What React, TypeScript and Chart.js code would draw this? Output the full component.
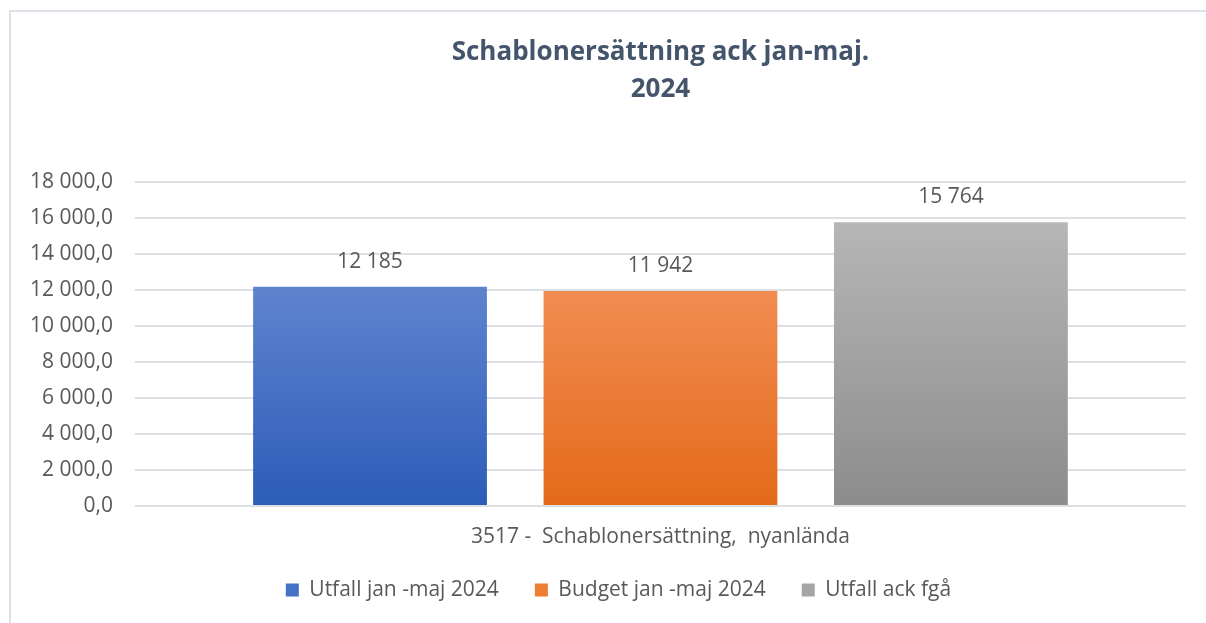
import React, { useEffect, useRef } from "react";
import { Chart, registerables } from "chart.js";

Chart.register(...registerables);

const categories = ["3517 -  Schablonersättning,  nyanlända"];
const seriesLabels = ["Utfall jan -maj 2024", "Budget jan -maj 2024", "Utfall ack fgå"];
const seriesValues = [12185, 11942, 15764];
const titleLines = ["Schablonersättning ack jan-maj.", "2024"];
const yMax = 18000;
const yStep = 2000;

const gradTop = ["#5f84cf", "#f28c52", "#b6b6b6"];
const gradBottom = ["#2c5cb7", "#e36a19", "#8c8c8c"];
const legendColors = ["#4472c4", "#ed7d31", "#a5a5a5"];

const FONT = "'Open Sans', 'Noto Sans', sans-serif";
const TEXT = "#595959";

function groupThousands(n: number): string {
  const s = Math.round(Math.abs(n)).toString();
  const out = s.replace(/\B(?=(\d{3})+(?!\d))/g, " ");
  return (n < 0 ? "-" : "") + out;
}

function fmtTick(v: number): string {
  return groupThousands(v) + ",0";
}

const dataLabelPlugin = {
  id: "dataLabels",
  afterDatasetsDraw(chart: any) {
    const ctx = chart.ctx;
    ctx.save();
    ctx.font = `21px ${FONT}`;
    ctx.fillStyle = TEXT;
    ctx.textAlign = "center";
    ctx.textBaseline = "middle";
    chart.data.datasets.forEach((ds: any, i: number) => {
      const meta = chart.getDatasetMeta(i);
      meta.data.forEach((el: any, j: number) => {
        const v = ds.data[j];
        ctx.fillText(groupThousands(v), el.x, el.y - 25);
      });
    });
    ctx.restore();
  },
};

// nudges the legend box to where the reference places it
const legendShiftPlugin = {
  id: "legendShift",
  afterLayout(chart: any) {
    const lg = chart.legend;
    if (!lg) return;
    const dx = 21.5;
    const dy = -12.5;
    lg.left += dx;
    lg.right += dx;
    lg.top += dy;
    lg.bottom += dy;
  },
};

export default function App() {
  const ref = useRef<HTMLCanvasElement>(null);

  useEffect(() => {
    if (!ref.current) return;
    const chart = new Chart(ref.current, {
      type: "bar",
      data: {
        labels: categories,
        datasets: seriesLabels.map((label, i) => ({
          label,
          data: [seriesValues[i]],
          backgroundColor: (c: any) => {
            const ch = c.chart;
            const area = ch.chartArea;
            const ys = ch.scales && ch.scales.y;
            if (!area || !ys || c.raw == null) return legendColors[i];
            const top = ys.getPixelForValue(c.raw);
            const bottom = ys.getPixelForValue(0);
            const g = ch.ctx.createLinearGradient(0, top, 0, bottom);
            g.addColorStop(0, gradTop[i]);
            g.addColorStop(1, gradBottom[i]);
            return g;
          },
          borderWidth: 0,
          categoryPercentage: 0.829,
          barPercentage: 0.805,
        })),
      },
      options: {
        animation: false,
        responsive: false,
        layout: { padding: { left: 8, right: 20, top: 0, bottom: 0 } },
        plugins: {
          title: {
            display: true,
            text: titleLines,
            fullSize: false,
            color: "#44546a",
            font: { family: FONT, size: 26, weight: "bold", lineHeight: 1.423 },
            padding: { top: 34, bottom: 74 },
          },
          legend: {
            position: "bottom",
            labels: {
              boxWidth: 13,
              boxHeight: 13,
              padding: 36,
              color: TEXT,
              font: { family: FONT, size: 21 },
              generateLabels: (ch: any) =>
                ch.data.datasets.map((ds: any, i: number) => ({
                  text: ds.label,
                  fillStyle: legendColors[i],
                  strokeStyle: legendColors[i],
                  lineWidth: 0,
                  hidden: false,
                  datasetIndex: i,
                  fontColor: TEXT,
                })),
            },
          },
          tooltip: { enabled: false },
        },
        scales: {
          x: {
            grid: { display: false, tickLength: 11.2 },
            border: { display: false },
            ticks: { color: TEXT, font: { family: FONT, size: 21 }, padding: 6.8 },
          },
          y: {
            min: 0,
            max: yMax,
            ticks: {
              stepSize: yStep,
              color: TEXT,
              font: { family: FONT, size: 21 },
              padding: 22,
              callback: (v: any) => fmtTick(Number(v)),
            },
            grid: { color: "#dcdfe4", lineWidth: 2, drawTicks: false },
            border: { display: false },
          },
        },
      },
      plugins: [dataLabelPlugin, legendShiftPlugin],
    });
    return () => chart.destroy();
  }, []);

  return (
    <div style={{ position: "fixed", left: 0, top: 0, width: 1206, height: 623, background: "#fff", overflow: "hidden" }}>
      <div
        style={{
          position: "absolute",
          left: 9,
          top: 10,
          width: 1300,
          height: 700,
          borderLeft: "2px solid #dde2ea",
          borderTop: "2px solid #dde2ea",
        }}
      />
      <canvas ref={ref} width={1206} height={623} style={{ position: "absolute", left: 0, top: 0 }} />
    </div>
  );
}
